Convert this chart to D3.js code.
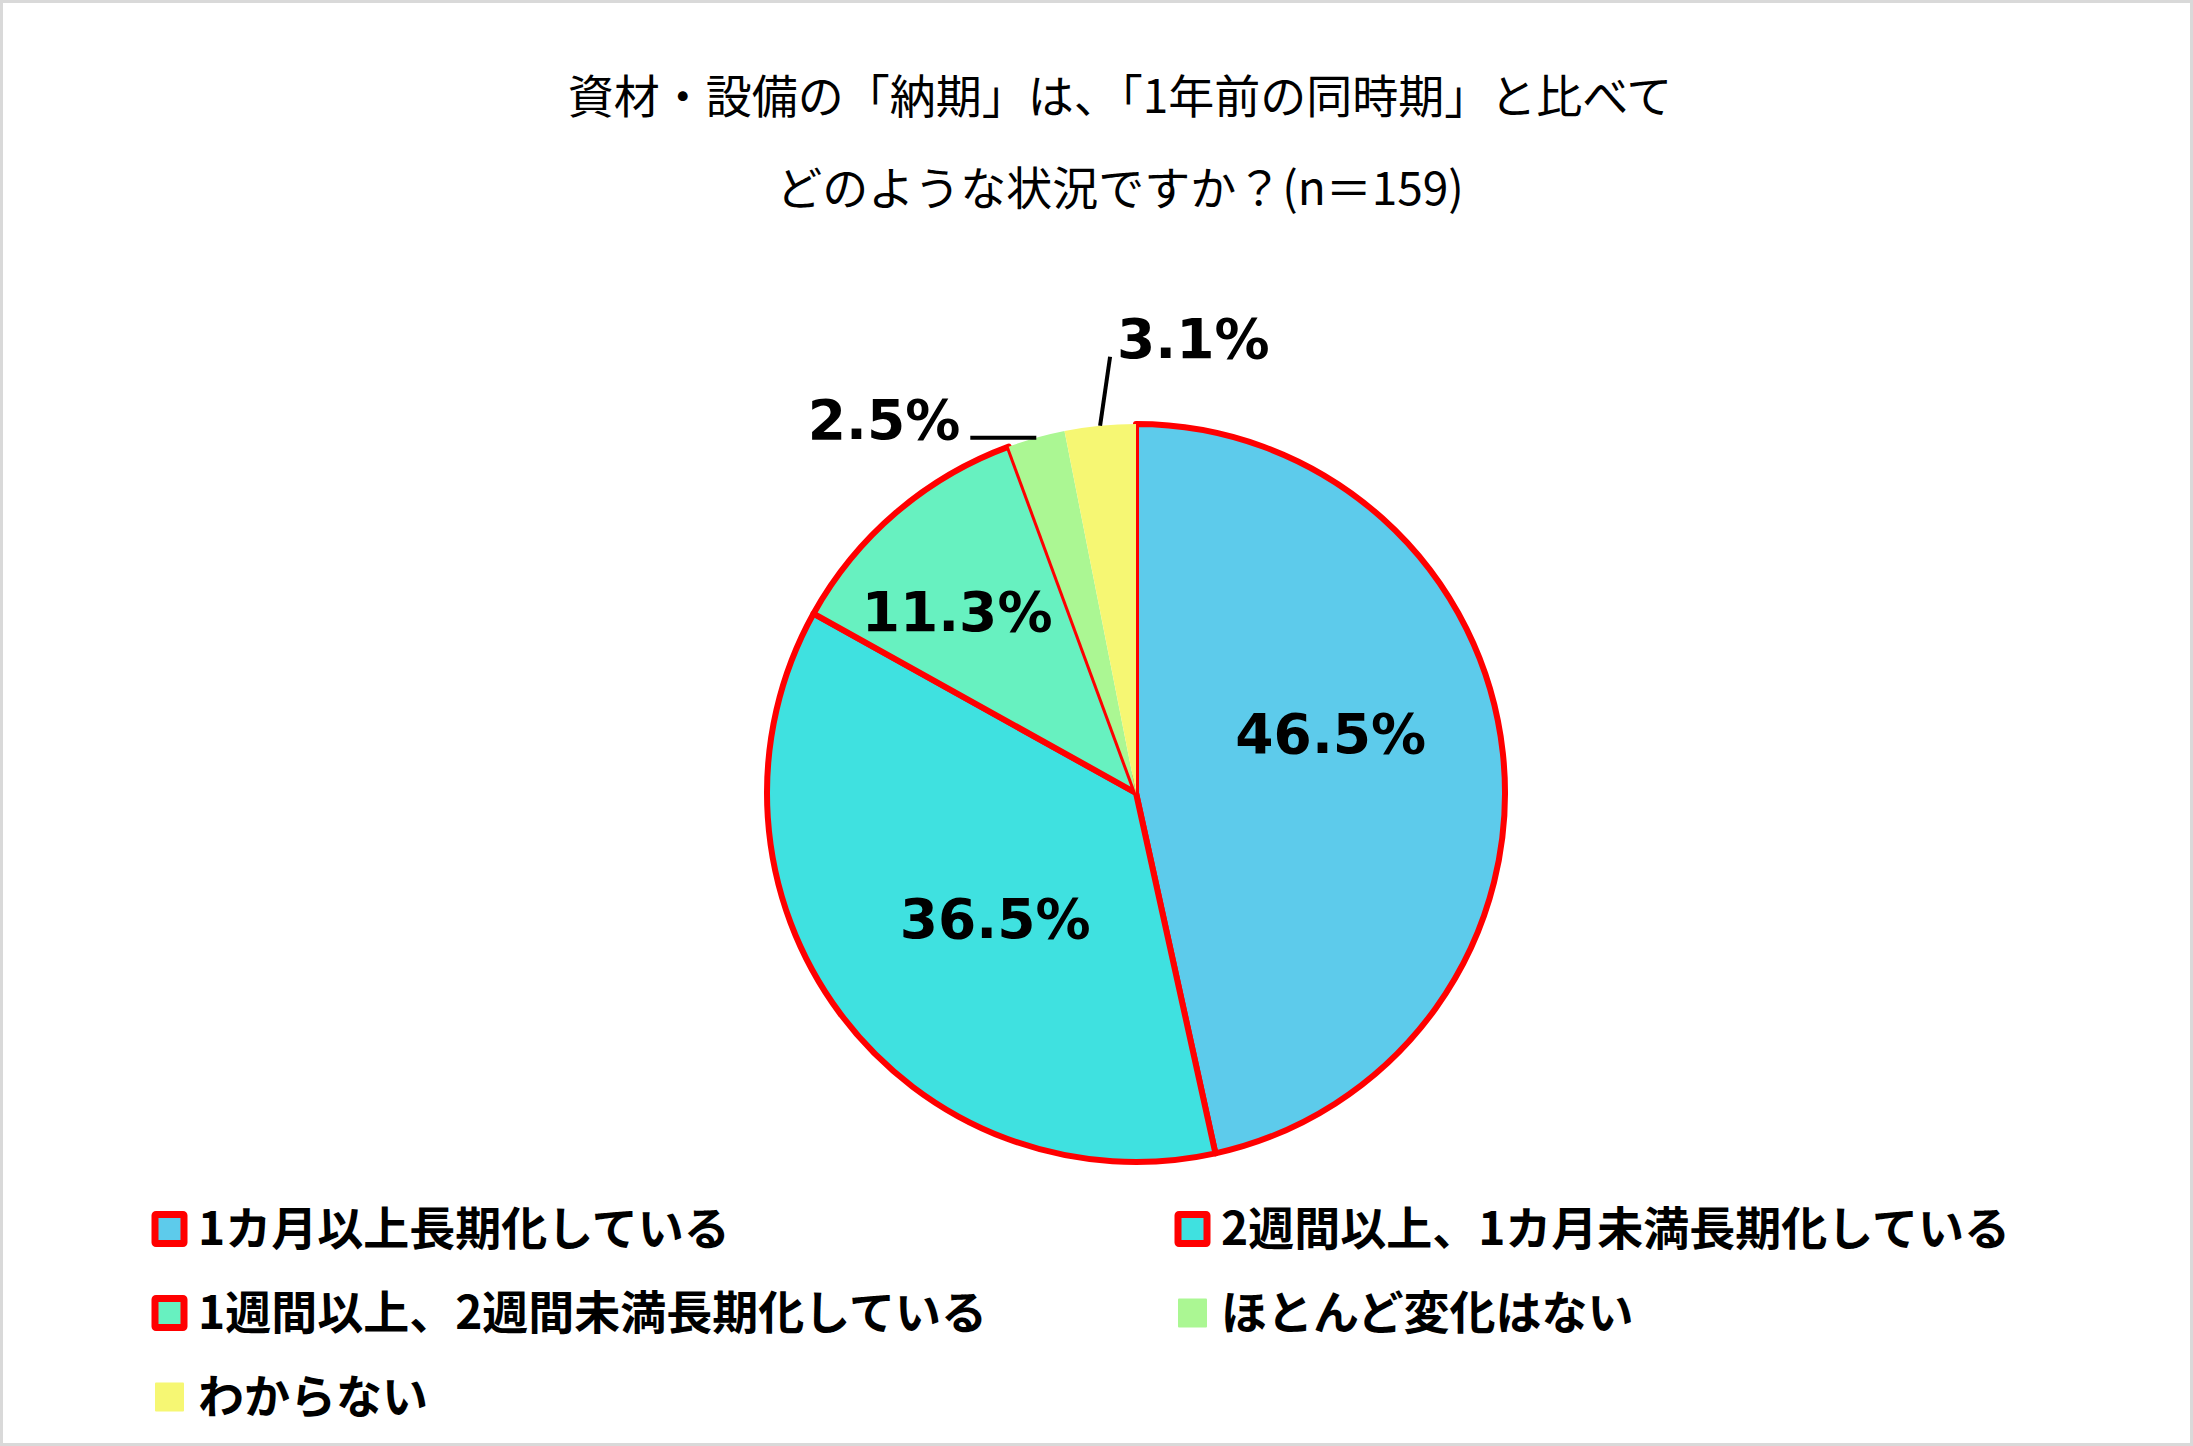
<!DOCTYPE html>
<html>
<head>
<meta charset="utf-8">
<script src="https://cdn.jsdelivr.net/npm/d3@7"></script>
<style>
  body { margin: 0; background: #fff; }
  svg { display: block; }
</style>
</head>
<body>
<div id="chart"></div>
<script>
// ---- data ----
const categories = [
  '1カ月以上長期化している',
  '2週間以上、1カ月未満長期化している',
  '1週間以上、2週間未満長期化している',
  'ほとんど変化はない',
  'わからない'
];
const shares = [46.5, 36.5, 11.3, 2.5, 3.1];          // percent, n=159
const titleLines = [
  '資材・設備の「納期」は、「1年前の同時期」と比べて',
  'どのような状況ですか？(n＝159)'
];

// ---- look ----
const W = 2193, H = 1446;
const colours  = ['#5DCBEB', '#3FE1E0', '#67F1C0', '#ABF793', '#F6F773'];
const outlined = [true, true, true, false, false];   // red outline on first three slices
const cx = 1136, cy = 793, R = 369;

const svg = d3.select('#chart').append('svg')
  .attr('width', W).attr('height', H);

svg.append('rect')
  .attr('x', 1.5).attr('y', 1.5)
  .attr('width', W - 3).attr('height', H - 3)
  .attr('fill', '#fff').attr('stroke', '#d9d9d9').attr('stroke-width', 3);

// title
svg.append('g').selectAll('text')
  .data(titleLines)
  .join('text')
    .attr('x', 1120)
    .attr('y', (d, i) => 113 + i * 92)
    .attr('text-anchor', 'middle')
    .attr('font-family', '"Noto Sans CJK JP", sans-serif')
    .attr('font-size', 46)
    .attr('fill', '#000')
    .text(d => d);

// pie
const pie = d3.pie().sort(null).value(d => d);
const arcs = pie(shares);
const arc = d3.arc().innerRadius(0).outerRadius(R);

const g = svg.append('g').attr('transform', `translate(${cx},${cy})`);

g.selectAll('path.slice')
  .data(arcs)
  .join('path')
    .attr('class', 'slice')
    .attr('d', arc)
    .attr('fill', (d, i) => colours[i])
    .attr('stroke', (d, i) => outlined[i] ? '#FF0000' : 'none')
    .attr('stroke-width', 6)
    .attr('stroke-linejoin', 'round');

const fmt = v => d3.format('.1f')(v) + '%';
const labelFont = '"DejaVu Sans", Verdana, sans-serif';

// inside labels: centroid at 0.55R plus a small nudge (like Excel "best fit")
const inner = d3.arc().innerRadius(R * 0.55).outerRadius(R * 0.55);
const nudge = [[-7, -38], [22, 4], [-47, -28]];
g.selectAll('text.in')
  .data(arcs.slice(0, 3))
  .join('text')
    .attr('class', 'in')
    .attr('x', (d, i) => inner.centroid(d)[0] + nudge[i][0])
    .attr('y', (d, i) => inner.centroid(d)[1] + nudge[i][1] + 20)
    .attr('text-anchor', 'middle')
    .attr('font-family', labelFont)
    .attr('font-weight', 'bold')
    .attr('font-size', 55)
    .attr('fill', '#000')
    .text(d => fmt(d.data));

// outside labels with leader lines
const edge = d3.arc().innerRadius(R).outerRadius(R);
const leaders = [
  { idx: 3, end: [-66, 0],  text: [-10, 1], anchor: 'end' },
  { idx: 4, end: [10, -69], text: [7, 1],   anchor: 'start' }
];
leaders.forEach(l => {
  const [x0, y0] = edge.centroid(arcs[l.idx]);
  const x1 = x0 + l.end[0], y1 = y0 + l.end[1];
  g.append('line')
    .attr('x1', x0).attr('y1', y0)
    .attr('x2', x1).attr('y2', y1)
    .attr('stroke', '#000').attr('stroke-width', 4);
  g.append('text')
    .attr('x', x1 + l.text[0])
    .attr('y', y1 + l.text[1])
    .attr('text-anchor', l.anchor)
    .attr('font-family', labelFont)
    .attr('font-weight', 'bold')
    .attr('font-size', 55)
    .attr('fill', '#000')
    .text(fmt(shares[l.idx]));
});

// legend, two columns
const colX = [155, 1178];
const rowY = [1229, 1313, 1397];
const leg = svg.append('g').selectAll('g')
  .data(categories)
  .join('g')
    .attr('transform', (d, i) => `translate(${colX[i % 2]},${rowY[Math.floor(i / 2)]})`);

leg.append('rect')
  .attr('x', 0).attr('y', -14.5)
  .attr('width', 29).attr('height', 29)
  .attr('fill', (d, i) => colours[i])
  .attr('stroke', (d, i) => outlined[i] ? '#FF0000' : 'none')
  .attr('stroke-width', 7)
  .attr('rx', 1);

leg.append('text')
  .attr('x', 43)
  .attr('y', 16)
  .attr('font-family', '"Noto Sans CJK JP", sans-serif')
  .attr('font-weight', 'bold')
  .attr('font-size', 46)
  .attr('fill', '#000')
  .text(d => d);
</script>
</body>
</html>
